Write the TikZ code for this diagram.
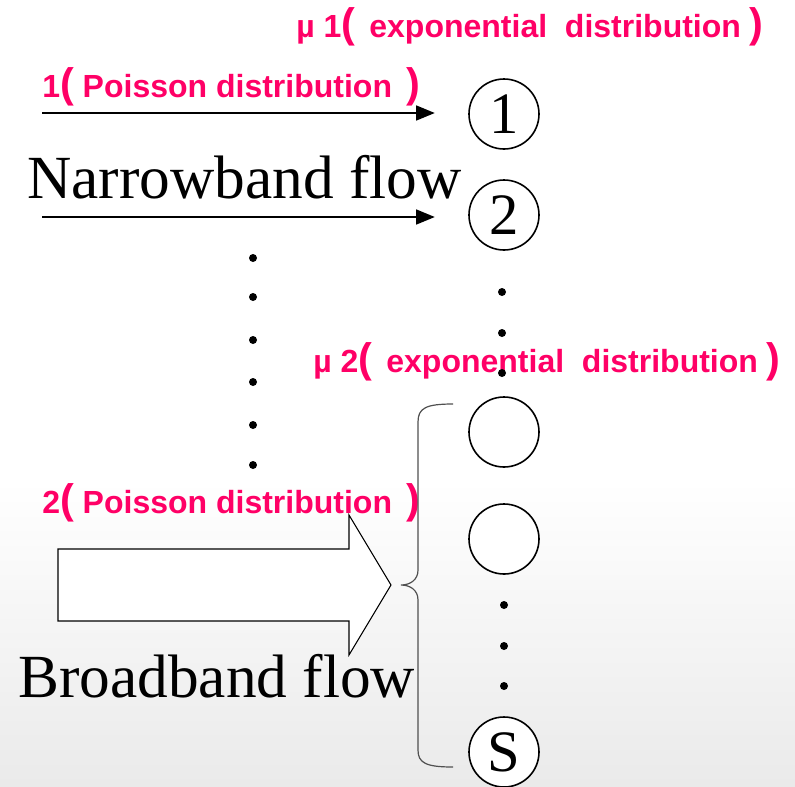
\documentclass[tikz,border=0pt]{standalone}
\usepackage{fontspec}
\setmainfont{Liberation Serif}
\newfontfamily\arialfont{Liberation Sans}
\usetikzlibrary{arrows.meta}
\definecolor{rosered}{RGB}{255,0,102}
\definecolor{bgbottom}{RGB}{234,234,234}
\definecolor{bracegray}{RGB}{80,80,80}
\newcommand{\bigparen}[1]{{\fontsize{31}{31}\selectfont #1}}

\tikzset{
  server/.style={circle, draw, line width=1.2pt, fill=white, minimum size=52.5pt, inner sep=0pt,
    font=\fontsize{44}{44}\selectfont},
  ratelabel/.style={anchor=base west, inner sep=0pt, text=rosered,
    font=\arialfont\bfseries\fontsize{24}{28}\selectfont},
  flowlabel/.style={anchor=base west, inner sep=0pt, font=\fontsize{46}{50}\selectfont},
  flowarrow/.style={line width=1.8pt, -{Triangle[length=14pt,width=11pt]}, shorten >=25pt},
  waitdot/.style={circle, fill=black, inner sep=0pt, minimum size=6pt},
  brace/.style={draw=bracegray, line width=0.9pt},
}

\begin{document}
\begin{tikzpicture}[x=0.75pt,y=-0.75pt]
  \useasboundingbox (0,0) rectangle (795,786);
  \fill[white] (0,0) rectangle (795,480);
  \shade[top color=white, bottom color=bgbottom] (0,480) rectangle (795,786);

  \node[server] (s1) at (504,114) {1};
  \node[server] (s2) at (504,215) {2};
  \node[server] (s3) at (504,432) {};
  \node[server] (s4) at (504,539) {};
  \node[server] (sS) at (504,752) {S};

  \node[ratelabel] (mu1) at (296,37) {µ 1\bigparen{(}\, exponential\ \ distribution \bigparen{)}};
  \node[ratelabel] (lam1) at (42,97) {1\bigparen{(} Poisson distribution\, \bigparen{)}};
  \node[ratelabel] (mu2) at (313,372) {µ 2\bigparen{(}\, exponential\ \ distribution \bigparen{)}};
  \node[ratelabel] (lam2) at (42,513) {2\bigparen{(} Poisson distribution\, \bigparen{)}};

  \node[flowlabel] (narrow) at (27,198) {Narrowband flow};
  \node[flowlabel] (broad) at (18,697) {Broadband flow};

  \coordinate (n1) at (42,113);
  \coordinate (n2) at (42,217);
  \draw[flowarrow] (n1) -- (n1 -| s1.west);
  \draw[flowarrow] (n2) -- (n2 -| s2.west);

  \foreach \y in {258,297,340,382,425,465}
    \node[waitdot] at (253,\y) {};
  \foreach \y in {292,333,373}
    \node[waitdot] at (502,\y) {};
  \foreach \y in {605,646,686}
    \node[waitdot] at (504,\y) {};

  \draw[line width=0.8pt, fill=white] (58,549) -- (349,549) -- (349,515) -- (391,585)
    -- (349,655) -- (349,621) -- (58,621) -- cycle;

  \draw[brace] (453,404) .. controls (426,404) and (418,408) .. (418,422) -- (418,570)
    .. controls (418,580) and (410,585) .. (401,585)
    .. controls (410,585) and (418,590) .. (418,600) -- (418,750)
    .. controls (418,763) and (426,767) .. (453,767);
\end{tikzpicture}
\end{document}
